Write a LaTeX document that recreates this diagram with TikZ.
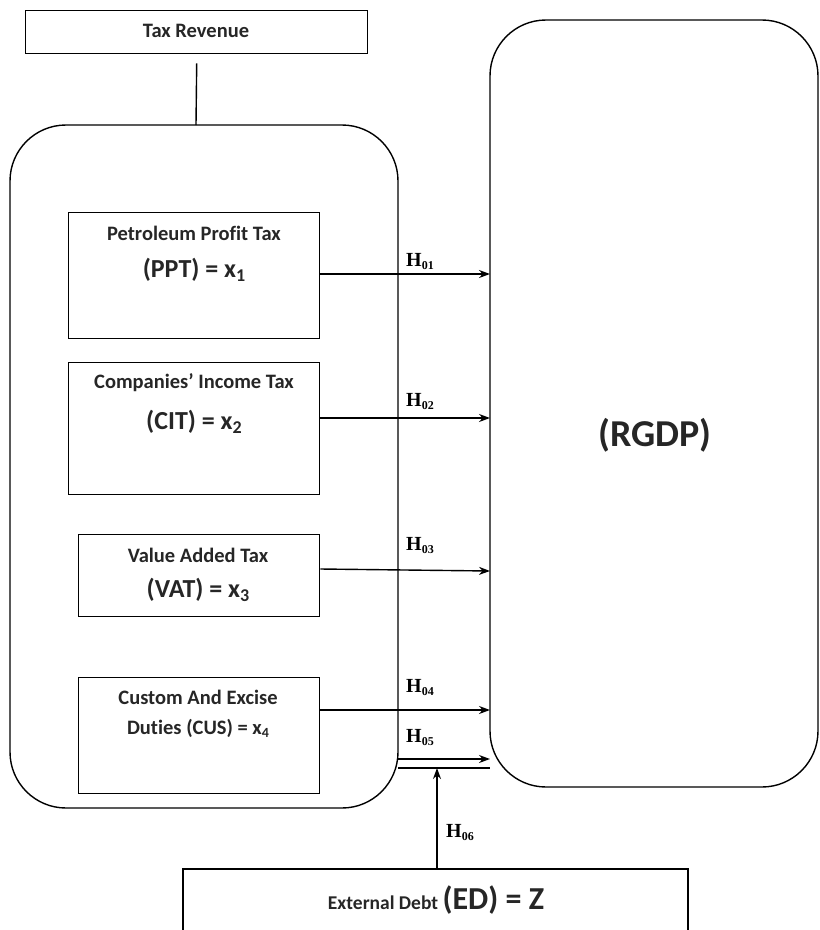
\documentclass[tikz,border=0pt]{standalone}
\usepackage{fontspec}
\setmainfont{Carlito}[Ligatures={NoCommon}]
\newfontfamily\serifH{Liberation Serif}
\usetikzlibrary{arrows.meta}
\newcommand{\Hlab}[1]{{\serifH\bfseries\fontsize{20}{22}\selectfont H\raisebox{-3pt}{\fontsize{12}{13}\selectfont #1}}}
\begin{document}
\begin{tikzpicture}[x=1pt,y=-1pt,
 box/.style={draw, line width=1.4pt, inner sep=0pt, anchor=north west},
 rbox/.style={draw, line width=1.4pt, rounded corners=56pt},
 conn/.style={line width=1.4pt, -{Stealth[length=11pt,width=8pt]}},
 plain/.style={line width=1.4pt},
 lbl/.style={font=\fontsize{20.5}{24}\selectfont\bfseries, text=black!85, inner sep=0pt},
 big/.style={font=\fontsize{26}{30}\selectfont\bfseries, text=black!85, inner sep=0pt},
 hl/.style={inner sep=0pt, anchor=west},
]
\useasboundingbox (0,0) rectangle (820,930);
\clip (0,0) rectangle (820,930);
% top box
\node[box, minimum width=342pt, minimum height=43pt] (tax) at (25,10) {};
\node[lbl] (taxt) at (196,31) {Tax Revenue};
% big rounded rects
\draw[rbox] (10,125) rectangle (398,808);
\coordinate (lefttop) at (196,125);
\draw[rbox] (490,20) rectangle (818,787);
\node[big, font=\fontsize{38}{44}\selectfont\bfseries] (rgdp) at (655,435) {(RGDP)};
\draw[plain] (tax.south) ++(0,9) coordinate (tl) (tl) -- (lefttop);
% inner boxes
\node[box, minimum width=251pt, minimum height=126pt] (ppt) at (68,212) {};
\node[lbl] (ppt1) at (194,233) {Petroleum Profit Tax};
\node[big] (ppt2) at (194,270) {(PPT) = x\raisebox{-4pt}{\fontsize{18}{20}\selectfont 1}};
\node[box, minimum width=251pt, minimum height=132pt] (cit) at (68,362) {};
\node[lbl] (cit1) at (194,383) {Companies’ Income Tax};
\node[big] (cit2) at (194,422) {(CIT) = x\raisebox{-4pt}{\fontsize{18}{20}\selectfont 2}};
\node[box, minimum width=241pt, minimum height=82pt] (vat) at (78,534) {};
\node[lbl] (vat1) at (198,555) {Value Added Tax};
\node[big] (vat2) at (198,590) {(VAT) = x\raisebox{-4pt}{\fontsize{18}{20}\selectfont 3}};
\node[box, minimum width=241pt, minimum height=116pt] (cus) at (78,677) {};
\node[lbl] (cus1) at (198,697) {Custom And Excise};
\node[lbl] (cus2) at (198,728) {Duties (CUS) = x\raisebox{-3pt}{\fontsize{14}{15}\selectfont 4}};
% target coordinates on RGDP edge
\coordinate (t1) at (490,274);
\coordinate (t2) at (490,418);
\coordinate (t3) at (490,571);
\coordinate (t4) at (490,710);
\coordinate (s5) at (398,759);
\coordinate (t5) at (490,759);
\coordinate (u5) at (398,768);
\coordinate (v5) at (490,768);
\coordinate (t6) at (437,768);
% arrows
\draw[conn] (ppt.east |- t1) -- (t1);
\draw[conn] (cit.east |- t2) -- (t2);
\draw[conn] (vat.east |- 0,569) -- (t3);
\draw[conn] (cus.east |- t4) -- (t4);
\draw[conn] (s5) -- (t5);
\draw[plain] (u5) -- (v5);
% labels
\node[hl] (h1) at (406,262) {\Hlab{01}};
\node[hl] (h2) at (406,402) {\Hlab{02}};
\node[hl] (h3) at (406,546) {\Hlab{03}};
\node[hl] (h4) at (406,688) {\Hlab{04}};
\node[hl] (h5) at (406,738) {\Hlab{05}};
\node[hl] (h6) at (446,832) {\Hlab{06}};
% external debt box
\draw[line width=1.4pt] (183,940) -- (183,869) -- (688,869) -- (688,940);
\coordinate (ed) at (437,869);
\node[inner sep=0pt, text=black!85] (edt) at (436,900) {{\fontsize{19.5}{23}\selectfont\bfseries External Debt }{\fontsize{32}{36}\selectfont\bfseries (ED) = Z}};
\draw[conn] (ed) -- (t6);
\end{tikzpicture}
\end{document}
